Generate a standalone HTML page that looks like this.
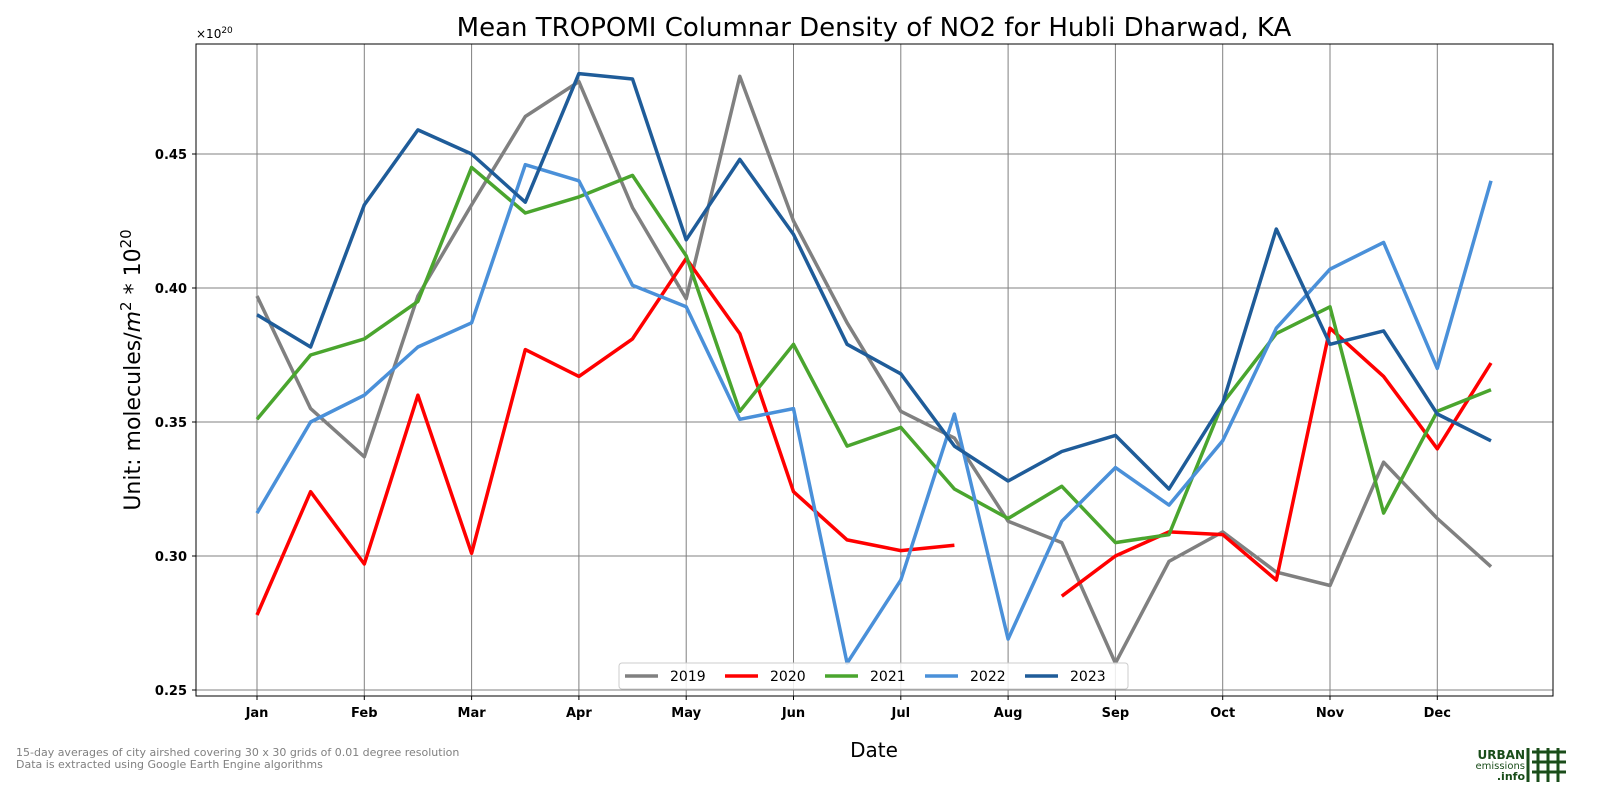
<!DOCTYPE html>
<html><head><meta charset="utf-8"><style>
body{margin:0;background:#fff;font-family:"Liberation Sans","DejaVu Sans",sans-serif}
svg text{font-family:"DejaVu Sans","Liberation Sans",sans-serif}
</style></head><body>
<svg id="c" width="1600" height="800" viewBox="0 0 1600 800" xmlns="http://www.w3.org/2000/svg">
<rect width="1600" height="800" fill="#fff"/>
<text x="874" y="36" font-size="26" text-anchor="middle">Mean TROPOMI Columnar Density of NO2 for Hubli Dharwad, KA</text>
<text x="196" y="38" font-size="12">×10<tspan dy="-5" font-size="9">20</tspan></text>
<g id="grid"></g>
<g id="lines"></g>
<rect x="196" y="44" width="1357" height="652" fill="none" stroke="#000" stroke-width="1"/>
<g id="ticks"></g>
<text x="874" y="757" font-size="20" text-anchor="middle">Date</text>
<text transform="translate(140,370) rotate(-90)" font-size="22" text-anchor="middle">Unit: molecules/<tspan font-style="italic">m</tspan><tspan dy="-9" font-size="15">2</tspan><tspan dy="9"> * 10</tspan><tspan dy="-9" font-size="15">20</tspan></text>
<g id="legend"></g>
<text x="16" y="756" font-size="11" fill="#808080">15-day averages of city airshed covering 30 x 30 grids of 0.01 degree resolution</text>
<text x="16" y="768" font-size="11" fill="#808080">Data is extracted using Google Earth Engine algorithms</text>
<g>
<text x="1525" y="759" font-size="12" font-weight="bold" fill="#1a4d1a" text-anchor="end">URBAN</text>
<text x="1525" y="769" font-size="10" fill="#1a4d1a" text-anchor="end">emissions</text>
<text x="1525" y="780" font-size="11" font-weight="bold" fill="#1a4d1a" text-anchor="end">.info</text>
<g stroke="#1a4d1a" stroke-width="3">
<line x1="1528" y1="748" x2="1528" y2="782"/><line x1="1538" y1="748" x2="1538" y2="782"/><line x1="1548" y1="748" x2="1548" y2="782"/>
<line x1="1532" y1="752" x2="1566" y2="752"/><line x1="1532" y1="762" x2="1566" y2="762"/><line x1="1532" y1="772" x2="1566" y2="772"/>
<line x1="1558" y1="748" x2="1558" y2="782"/></g>
</g>
</svg>
<script>
const months=["Jan","Feb","Mar","Apr","May","Jun","Jul","Aug","Sep","Oct","Nov","Dec"];
const yTicks=[0.25,0.30,0.35,0.40,0.45];
const years=["2019","2020","2021","2022","2023"];
const s2019=[.397,.355,.337,.397,.431,.464,.477,.430,.396,.479,.425,.387,.354,.344,.313,.305,.260,.298,.309,.294,.289,.335,.314,.296];
const s2020=[.278,.324,.297,.360,.301,.377,.367,.381,.411,.383,.324,.306,.302,.304,null,.285,.300,.309,.308,.291,.385,.367,.340,.372];
const s2021=[.351,.375,.381,.395,.445,.428,.434,.442,.412,.354,.379,.341,.348,.325,.314,.326,.305,.308,.357,.383,.393,.316,.354,.362];
const s2022=[.316,.350,.360,.378,.387,.446,.440,.401,.393,.351,.355,.260,.291,.353,.269,.313,.333,.319,.343,.385,.407,.417,.370,.440];
const s2023=[.390,.378,.431,.459,.450,.432,.480,.478,.418,.448,.420,.379,.368,.341,.328,.339,.345,.325,.357,.422,.379,.384,.353,.343];
const series=[s2019,s2020,s2021,s2022,s2023];
const colors=["#808080","#ff0000","#4aa52e","#4a90d9","#1f5c99"];
const NS="http://www.w3.org/2000/svg";
const X=i=>257+i*53.65;
const Y=v=>690-(v-0.25)*2680;
function mk(t,a,p){const e=document.createElementNS(NS,t);for(const k in a)e.setAttribute(k,a[k]);p.appendChild(e);return e;}
const grid=document.getElementById('grid'),ticks=document.getElementById('ticks'),lines=document.getElementById('lines'),leg=document.getElementById('legend');
months.forEach((m,i)=>{const x=X(i*2);
 const g=mk('line',{x1:x,x2:x,y1:44,y2:696,stroke:'#808080','stroke-width':1},grid);
 
 
 const tk=mk('line',{x1:x,x2:x,y1:696,y2:700,stroke:'#000'},ticks);
 
 
 const t=mk('text',{x:x,y:717,'font-size':13,'font-weight':'bold','text-anchor':'middle'},ticks);t.textContent=m;
 
 
});
yTicks.forEach(v=>{const y=Y(v);
 const g=mk('line',{x1:196,x2:1553,y1:y,y2:y,stroke:'#808080','stroke-width':1},grid);
 
 
 const tk=mk('line',{x1:192,x2:196,y1:y,y2:y,stroke:'#000'},ticks);
 
 
 const t=mk('text',{x:187,y:y+5,'font-size':13,'font-weight':'bold','text-anchor':'end'},ticks);t.textContent=v.toFixed(2);
 
 
});
series.forEach((s,k)=>{let segs=[],cur=[];
 s.forEach((v,i)=>{if(v==null){if(cur.length)segs.push(cur);cur=[];}else cur.push(X(i).toFixed(1)+','+Y(v).toFixed(1));});
 if(cur.length)segs.push(cur);
 segs.forEach(sg=>{const p=mk('polyline',{points:sg.join(' '),fill:'none',stroke:colors[k],'stroke-width':3.5,'stroke-linejoin':'round'},lines);
  
  });
});
mk('rect',{x:619,y:663,width:509,height:26,fill:'#fff','fill-opacity':0.85,stroke:'#ccc',rx:3},leg);
years.forEach((y,k)=>{const x0=625+k*100;
 const l=mk('line',{x1:x0,x2:x0+33,y1:676,y2:676,stroke:colors[k],'stroke-width':3.5},leg);
 
 
 const t=mk('text',{x:x0+45,y:681,'font-size':14},leg);t.textContent=y;
 
 
});
</script>
</body></html>
